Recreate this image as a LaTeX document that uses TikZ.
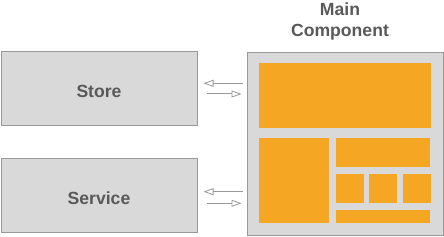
\documentclass[tikz,border=0pt]{standalone}
\usepackage{fontspec}
\setmainfont{Liberation Sans}
\usetikzlibrary{arrows.meta,calc}
\definecolor{boxfill}{HTML}{D9D9D9}
\definecolor{boxline}{HTML}{999999}
\definecolor{txt}{HTML}{595959}
\definecolor{orng}{HTML}{F5A623}
\definecolor{arrgray}{HTML}{999999}
\tikzset{
  graybox/.style={draw=boxline, fill=boxfill, line width=1pt, inner sep=0pt,
    font=\fontsize{17.6}{21}\selectfont\bfseries, text=txt, text height=16.5pt, text depth=0pt},
  orangepart/.style={fill=orng},
  flow/.style={draw=arrgray, line width=1pt, -{Triangle[open, length=10pt, width=7pt, line width=0.8pt]}},
  title/.style={font=\fontsize{17.6}{21}\selectfont\bfseries, text=txt, align=center}
}
\begin{document}
\begin{tikzpicture}[x=1pt,y=-1pt]
\useasboundingbox (0,0) rectangle (444,237);
\node[graybox, minimum width=196pt, minimum height=74pt] (store) at (99,89) {Store};
\node[graybox, minimum width=196pt, minimum height=74pt] (service) at (99,196) {Service};
\node[graybox, minimum width=196pt, minimum height=183pt] (main) at (345,144.5) {};
\node[title] (maintitle) at (340,21) {Main\\Component};
% inner parts
\fill[orangepart] (259,63) rectangle (431,128);
\fill[orangepart] (259,138) rectangle (329,223);
\fill[orangepart] (336,138) rectangle (430,167);
\fill[orangepart] (336,174) rectangle (364,203);
\fill[orangepart] (369,174) rectangle (397,203);
\fill[orangepart] (403,174) rectangle (431,203);
\fill[orangepart] (336,210) rectangle (430,223);
% arrows
\draw[flow] ($(main.west)+(-4,-61.2)$) -- ($(store.east)+(6,-5.7)$);
\draw[flow] ($(store.east)+(9,5)$) -- ($(main.west)+(-5,-50.5)$);
\draw[flow] ($(main.west)+(-4,47.2)$) -- ($(service.east)+(6,-4.3)$);
\draw[flow] ($(service.east)+(9,7.3)$) -- ($(main.west)+(-5,58.8)$);
\end{tikzpicture}
\end{document}
